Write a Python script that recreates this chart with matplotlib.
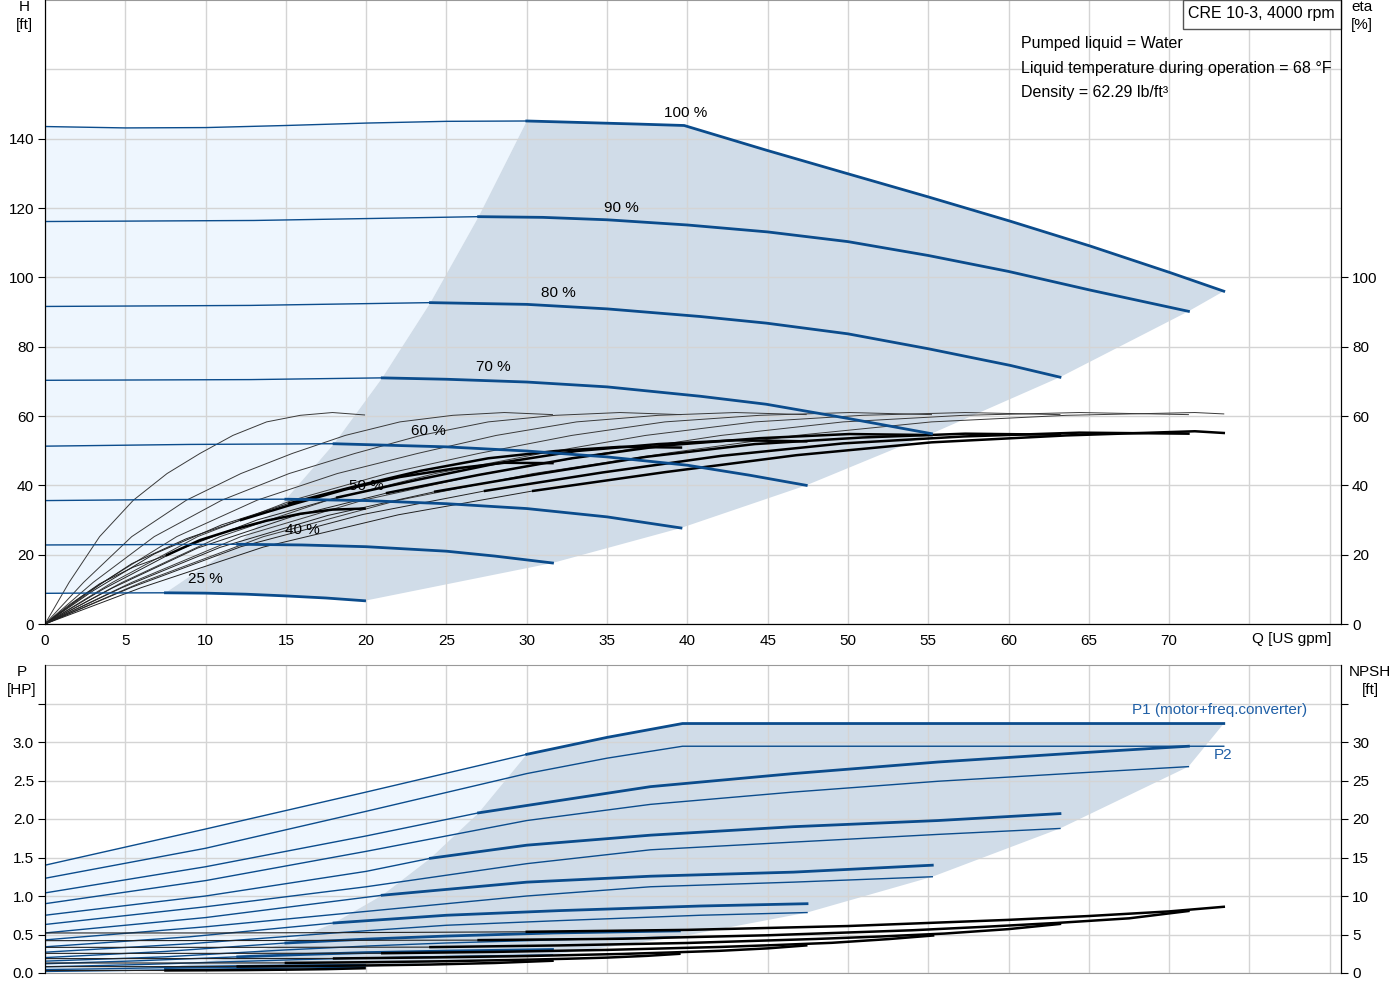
import numpy as np
import matplotlib
matplotlib.use('Agg')
import matplotlib.pyplot as plt
from matplotlib.patches import Rectangle, Polygon

plt.rcParams['font.family'] = ['Liberation Sans', 'DejaVu Sans']

# speed curves, order: 100, 90, 80, 70, 60, 50, 40, 25 %
speed_labels = ['100 %', '90 %', '80 %', '70 %', '60 %', '50 %', '40 %', '25 %']
q_min = [30, 27, 24, 21, 18, 15, 12, 7.5]

# head H [ft]
head_q = [
    [0, 5, 10, 15, 20, 25, 30, 37, 39.8, 44.9, 49.9, 55, 60.1, 65.1, 70.1, 73.4],
    [0, 13, 27, 31, 35, 40, 45, 50, 55, 60, 65.1, 71.2],
    [0, 12.8, 24, 30, 35, 40.8, 44.9, 50, 55, 60.1, 63.2],
    [0, 12.8, 21, 25, 30, 35, 40.8, 44.9, 50, 55.2],
    [0, 9, 18, 25, 30, 35, 40, 43.9, 47.4],
    [0, 7.5, 15, 20, 25, 30, 35, 39.6],
    [0, 6, 12, 16, 20, 25, 28, 31.6],
    [0, 3.75, 7.5, 10, 12.5, 15, 17.5, 19.9],
]
head_h = [
    [143.5, 143.1, 143.2, 143.8, 144.5, 145.0, 145.1, 144.2, 143.8, 136.7, 130.0, 123.2, 116.2, 109.0, 101.3, 96.0],
    [116.1, 116.4, 117.5, 117.3, 116.6, 115.1, 113.1, 110.3, 106.3, 101.7, 96.3, 90.2],
    [91.6, 91.9, 92.7, 92.2, 90.9, 88.7, 86.8, 83.7, 79.4, 74.6, 71.2],
    [70.3, 70.5, 71.0, 70.6, 69.8, 68.4, 65.7, 63.4, 59.3, 54.9],
    [51.3, 51.8, 52.0, 51.1, 49.9, 48.2, 45.8, 42.9, 40.0],
    [35.6, 35.9, 36.0, 35.6, 34.7, 33.3, 30.9, 27.7],
    [22.8, 22.9, 23.0, 22.8, 22.3, 21.0, 19.6, 17.6],
    [8.85, 8.95, 9.0, 8.9, 8.6, 8.1, 7.5, 6.7],
]

# efficiency [%]: pump eta (thin) and total eta (thick in operating range)
eta_q = [
    [0, 6, 13.6, 22, 30.4, 38.6, 46.8, 55.2, 63.6, 71.6, 73.4],
    [0, 5.4, 12.2, 19.8, 27.4, 34.7, 42.1, 49.7, 57.2, 64.4, 71.2],
    [0, 4.8, 10.9, 17.6, 24.3, 30.9, 37.4, 44.2, 50.9, 57.3, 63.2],
    [0, 4.2, 9.5, 15.4, 21.3, 27.0, 32.8, 38.6, 44.5, 50.1, 55.2],
    [0, 3.6, 8.2, 13.2, 18.2, 23.2, 28.1, 33.1, 38.2, 43.0, 47.4],
    [0, 3.0, 6.8, 11.0, 15.2, 19.3, 23.4, 27.6, 31.8, 35.8, 39.6],
    [0, 2.4, 5.4, 8.8, 12.2, 15.4, 18.7, 22.1, 25.4, 28.6, 31.6],
    [0, 1.5, 3.4, 5.5, 7.6, 9.65, 11.7, 13.8, 15.9, 17.9, 19.9],
]
eta_pump = [
    [0, 12, 25.2, 35.7, 43.4, 49.2, 54.4, 58.3, 60.2, 61.0, 60.6],
    [0, 12, 25.2, 35.7, 43.4, 49.2, 54.4, 58.3, 60.2, 61.0, 60.4],
    [0, 12, 25.2, 35.7, 43.4, 49.2, 54.4, 58.3, 60.2, 61.0, 60.4],
    [0, 12, 25.2, 35.7, 43.4, 49.2, 54.4, 58.3, 60.2, 61.0, 60.4],
    [0, 12, 25.2, 35.7, 43.4, 49.2, 54.4, 58.3, 60.2, 61.0, 60.4],
    [0, 12, 25.2, 35.7, 43.4, 49.2, 54.4, 58.3, 60.2, 61.0, 60.4],
    [0, 12, 25.2, 35.7, 43.4, 49.2, 54.4, 58.3, 60.2, 61.0, 60.4],
    [0, 12, 25.2, 35.7, 43.4, 49.2, 54.4, 58.3, 60.2, 61.0, 60.3],
]
eta_total = [
    [0, 10.5, 22.2, 31.5, 38.4, 43.8, 48.7, 52.4, 54.4, 55.6, 55.1],
    [0, 10.6, 22.3, 31.6, 38.4, 43.7, 48.5, 52.1, 54.1, 55.2, 54.9],
    [0, 10.5, 22.1, 31.3, 38.2, 43.4, 48.2, 51.9, 53.8, 54.9, 54.6],
    [0, 10.4, 21.9, 31.0, 37.8, 43.0, 47.8, 51.5, 53.6, 54.8, 54.5],
    [0, 10.0, 21.2, 30.0, 36.5, 41.6, 46.3, 49.9, 51.9, 53.0, 52.7],
    [0, 9.6, 20.2, 28.6, 34.8, 39.7, 44.2, 47.8, 49.9, 51.1, 50.9],
    [0, 8.3, 17.4, 24.6, 30.0, 34.5, 38.8, 42.4, 44.8, 46.5, 46.4],
    [0, 5.5, 11.6, 16.4, 19.9, 24.2, 27.2, 29.8, 31.8, 33.0, 33.3],
]

# power [HP]
p1_q = [
    [0, 10, 20, 30, 35, 39.7, 73.4],
    [0, 10, 20, 27, 37.7, 46.6, 55.6, 64.5, 71.2],
    [0, 10, 20, 24, 30, 37.7, 46.6, 55.6, 63.2],
    [0, 10, 21, 30, 37.7, 46.6, 55.25],
    [0, 9, 18, 25, 32, 40.8, 47.45],
    [0, 7.5, 15, 20, 25, 31.7, 39.5],
    [0, 6, 12, 16, 20, 25, 31.6],
    [0, 3.75, 7.5, 12, 16, 19.9],
]
p1 = [
    [1.40, 1.87, 2.35, 2.84, 3.06, 3.24, 3.24],
    [1.04, 1.38, 1.78, 2.08, 2.42, 2.59, 2.74, 2.86, 2.945],
    [0.75, 1.0, 1.32, 1.49, 1.66, 1.79, 1.90, 1.98, 2.07],
    [0.52, 0.72, 1.01, 1.18, 1.257, 1.31, 1.40],
    [0.34, 0.47, 0.65, 0.75, 0.81, 0.87, 0.90],
    [0.20, 0.28, 0.39, 0.44, 0.48, 0.52, 0.547],
    [0.12, 0.16, 0.21, 0.24, 0.265, 0.285, 0.305],
    [0.045, 0.055, 0.07, 0.085, 0.095, 0.10],
]
p2_q = [
    [0, 10, 20, 30, 35, 39.7, 73.4],
    [0, 10, 20, 30, 37.7, 46.6, 55.6, 64.5, 71.2],
    [0, 10, 20, 30, 37.7, 46.6, 55.6, 63.2],
    [0, 10, 21, 30, 37.7, 46.6, 55.25],
    [0, 9, 18, 25, 32, 40.8, 47.45],
    [0, 7.5, 15, 20, 25, 31.7, 39.5],
    [0, 6, 12, 16, 20, 25, 31.6],
    [0, 3.75, 7.5, 12, 16, 19.9],
]
p2 = [
    [1.23, 1.62, 2.10, 2.59, 2.79, 2.945, 2.945],
    [0.90, 1.20, 1.58, 1.98, 2.19, 2.35, 2.49, 2.60, 2.68],
    [0.63, 0.86, 1.12, 1.42, 1.60, 1.70, 1.80, 1.877],
    [0.43, 0.60, 0.82, 1.00, 1.12, 1.18, 1.25],
    [0.27, 0.38, 0.52, 0.62, 0.68, 0.75, 0.785],
    [0.154, 0.21, 0.30, 0.35, 0.39, 0.43, 0.47],
    [0.08, 0.11, 0.15, 0.175, 0.195, 0.215, 0.235],
    [0.02, 0.03, 0.04, 0.055, 0.065, 0.075],
]

# NPSH [ft]
npsh_q = [
    [0, 10, 20, 30, 40, 50, 60, 65, 70, 73.4],
    [0, 13.5, 27, 36, 45, 54, 58.5, 63, 67.5, 71.2],
    [0, 12, 24, 32, 40, 48, 52, 56, 60, 63.2],
    [0, 10.5, 21, 28, 35, 42, 45.5, 49, 52.5, 55.3],
    [0, 9, 18, 24, 30, 36, 39, 42, 45, 47.4],
    [0, 7.5, 15, 20, 25, 30, 32.5, 35, 37.5, 39.5],
    [0, 6, 12, 16, 20, 24, 28, 31.6],
    [0, 3.75, 7.5, 10, 12.5, 15, 17.5, 19.9],
]
npsh = [
    [5.2, 5.2, 5.25, 5.35, 5.6, 6.1, 6.9, 7.4, 8.0, 8.6],
    [4.2, 4.22, 4.27, 4.45, 4.9, 5.55, 6.0, 6.5, 7.1, 8.05],
    [3.33, 3.33, 3.36, 3.58, 3.9, 4.42, 4.74, 5.12, 5.7, 6.37],
    [2.55, 2.55, 2.57, 2.74, 3.0, 3.38, 3.63, 3.92, 4.4, 4.87],
    [1.87, 1.87, 1.89, 2.02, 2.2, 2.48, 2.67, 2.88, 3.2, 3.58],
    [1.3, 1.3, 1.31, 1.4, 1.53, 1.73, 1.85, 2.0, 2.23, 2.49],
    [0.83, 0.83, 0.84, 0.9, 0.98, 1.1, 1.3, 1.59],
    [0.33, 0.33, 0.33, 0.35, 0.38, 0.43, 0.5, 0.62],
]

blue = '#0b4c8c'
light_fill = '#eef6fe'
dark_fill = '#d0dce8'
grid_c = '#d4d4d4'


def split(q, v, qm):
    q = np.array(q, dtype=float)
    v = np.array(v, dtype=float)
    lo = q <= qm + 0.5
    hi = q >= qm - 0.5
    return (q[lo], v[lo]), (q[hi], v[hi])


def value_at(q, v, qm):
    q = np.array(q, dtype=float)
    return v[int(np.argmin(np.abs(q - qm)))]


fig = plt.figure(figsize=(14, 10), dpi=100)
ax1 = fig.add_axes([45 / 1400, 0.376, 1296 / 1400, 0.624])
ax2 = fig.add_axes([45 / 1400, 0.027, 1296 / 1400, 0.308])

# ---------------- upper chart: head + efficiency ----------------
ax1.set_xlim(0, 80.7)
ax1.set_ylim(0, 180)

# operating areas
mins = [(qm, value_at(q, h, qm)) for q, h, qm in zip(head_q, head_h, q_min)]
ends = [(q[-1], h[-1]) for q, h in zip(head_q, head_h)]
(t25, k25) = split(head_q[-1], head_h[-1], q_min[-1])
(t100, k100) = split(head_q[0], head_h[0], q_min[0])

light = list(zip(*t25)) + mins[::-1][1:] + list(zip(*t100))[::-1][1:]
dark = mins[::-1] + list(zip(*k100))[1:] + ends[1:] + list(zip(*k25))[::-1][1:-1]
ax1.add_patch(Polygon(light, closed=True, fc=light_fill, ec='none', zorder=0.2))
ax1.add_patch(Polygon(dark, closed=True, fc=dark_fill, ec='none', zorder=0.2))

for q, v, qm in zip(eta_q, eta_pump, q_min):
    ax1.plot(q, v, color='#3a3a3a', lw=0.7, zorder=2)
for q, v, qm in zip(eta_q, eta_total, q_min):
    thin, thick = split(q, v, qm)
    ax1.plot(*thin, color='#222222', lw=0.7, zorder=2)
    ax1.plot(*thick, color='black', lw=1.8, zorder=2.1)

for q, h, qm in zip(head_q, head_h, q_min):
    thin, thick = split(q, h, qm)
    ax1.plot(*thin, color=blue, lw=1.0, zorder=3)
    ax1.plot(*thick, color=blue, lw=2.0, zorder=3)

label_pos = [(39.9, 147.4), (35.9, 120.1), (31.95, 95.6), (27.9, 74.0),
             (23.9, 55.6), (20.0, 39.8), (16.0, 27.1), (10.0, 13.0)]
for txt, (x, y) in zip(speed_labels, label_pos):
    ax1.text(x, y, txt, ha='center', va='center', fontsize=11, zorder=4)

ax1.set_axisbelow(True)
ax1.set_xticks(np.arange(0, 81, 5))
ax1.set_xticklabels([str(v) if v <= 70 else '' for v in range(0, 81, 5)])
ax1.set_yticks(np.arange(0, 141, 20))
ax1.grid(True, color=grid_c, lw=1)
ax1.axhline(160, color=grid_c, lw=1, zorder=0.5)
ax1.tick_params(axis='x', length=0, pad=7, labelsize=11)
ax1.tick_params(axis='y', length=5, pad=3, labelsize=11)
ax1.spines['top'].set_color('#999999')
for s in ['left', 'bottom', 'right']:
    ax1.spines[s].set_color('black')

ax1r = ax1.twinx()
ax1r.set_ylim(0, 180)
ax1r.set_yticks(np.arange(0, 101, 20))
ax1r.tick_params(axis='y', length=5, pad=3, labelsize=11)
ax1r.spines['right'].set_color('black')
ax1r.spines['top'].set_visible(False)

# model box + liquid info
ax1.add_patch(Rectangle((0.878, 0.9535), 0.122, 0.0465, transform=ax1.transAxes,
                        fc='white', ec='#555555', lw=1, zorder=5, clip_on=False))
ax1.text(0.9385, 0.979, 'CRE 10-3, 4000 rpm', transform=ax1.transAxes,
         ha='center', va='center', fontsize=11.5, zorder=6)
info = ['Pumped liquid = Water', 'Liquid temperature during operation = 68 °F',
        'Density = 62.29 lb/ft³']
for i, line in enumerate(info):
    ax1.text(0.7531, 0.9295 - i * 0.0385, line, transform=ax1.transAxes,
             ha='left', va='center', fontsize=11.5, zorder=6)

# ---------------- lower chart: power + NPSH ----------------
ax2.set_xlim(0, 80.7)
ax2.set_ylim(0, 4)

p_mins = [(qm, value_at(q, v, qm)) for q, v, qm in zip(p1_q, p1, q_min)]
p_ends = [(q[-1], v[-1]) for q, v in zip(p2_q, p2)]
(pt100, pk100) = split(p1_q[0], p1[0], q_min[0])
(b_lo, b_hi) = split(p2_q[-1], p2[-1], q_min[-1])

light2 = list(zip(*b_lo)) + p_mins[::-1] + list(zip(*pt100))[::-1][1:]
dark2 = p_mins[::-1] + list(zip(*pk100))[1:] + p_ends[1:] + list(zip(*b_hi))[::-1][1:]
ax2.add_patch(Polygon(light2, closed=True, fc=light_fill, ec='none', zorder=0.2))
ax2.add_patch(Polygon(dark2, closed=True, fc=dark_fill, ec='none', zorder=0.2))

for q, v in zip(p2_q, p2):
    ax2.plot(q, v, color=blue, lw=1.0, zorder=3)
for q, v, qm in zip(p1_q, p1, q_min):
    thin, thick = split(q, v, qm)
    ax2.plot(*thin, color=blue, lw=1.0, zorder=3)
    ax2.plot(*thick, color=blue, lw=2.0, zorder=3)

ax2.set_axisbelow(True)
ax2.set_xticks(np.arange(0, 81, 5))
ax2.set_xticklabels([])
ax2.set_yticks(np.arange(0, 3.6, 0.5))
ax2.set_yticklabels(['%.1f' % v if v <= 3.0 else '' for v in np.arange(0, 3.6, 0.5)])
ax2.grid(True, color=grid_c, lw=1)
ax2.tick_params(axis='x', length=0)
ax2.tick_params(axis='y', length=5, pad=3, labelsize=11)
ax2.spines['top'].set_color('#999999')
ax2.spines['bottom'].set_color('#999999')

ax2r = ax2.twinx()
ax2r.set_ylim(0, 40)
for q, v, qm in zip(npsh_q, npsh, q_min):
    thin, thick = split(q, v, qm)
    ax2r.plot(*thin, color='#222222', lw=0.8)
    ax2r.plot(*thick, color='black', lw=1.8)
ax2r.set_yticks(np.arange(0, 36, 5))
ax2r.set_yticklabels([str(v) if v <= 30 else '' for v in range(0, 36, 5)])
ax2r.tick_params(axis='y', length=5, pad=3, labelsize=11)
ax2r.spines['top'].set_visible(False)
ax2r.spines['bottom'].set_visible(False)

fig.text(1132 / 1400, 1 - 710 / 1000, 'P1 (motor+freq.converter)', color='#1f5fa6',
         ha='left', va='center', fontsize=11)
fig.text(1214 / 1400, 1 - 755 / 1000, 'P2', color='#1f5fa6', ha='left', va='center', fontsize=11)

# axis unit labels
fig.text(24 / 1400, 1 - 7 / 1000, 'H', ha='center', va='center', fontsize=11)
fig.text(24 / 1400, 1 - 25 / 1000, '[ft]', ha='center', va='center', fontsize=11)
fig.text(1362 / 1400, 1 - 7 / 1000, 'eta', ha='center', va='center', fontsize=11)
fig.text(1362 / 1400, 1 - 25 / 1000, '[%]', ha='center', va='center', fontsize=11)
fig.text(1292 / 1400, 1 - 639 / 1000, 'Q [US gpm]', ha='center', va='center', fontsize=11)
fig.text(22 / 1400, 1 - 672 / 1000, 'P', ha='center', va='center', fontsize=11)
fig.text(22 / 1400, 1 - 690 / 1000, '[HP]', ha='center', va='center', fontsize=11)
fig.text(1370 / 1400, 1 - 672 / 1000, 'NPSH', ha='center', va='center', fontsize=11)
fig.text(1370 / 1400, 1 - 690 / 1000, '[ft]', ha='center', va='center', fontsize=11)

fig.savefig('out.png', dpi=100)
